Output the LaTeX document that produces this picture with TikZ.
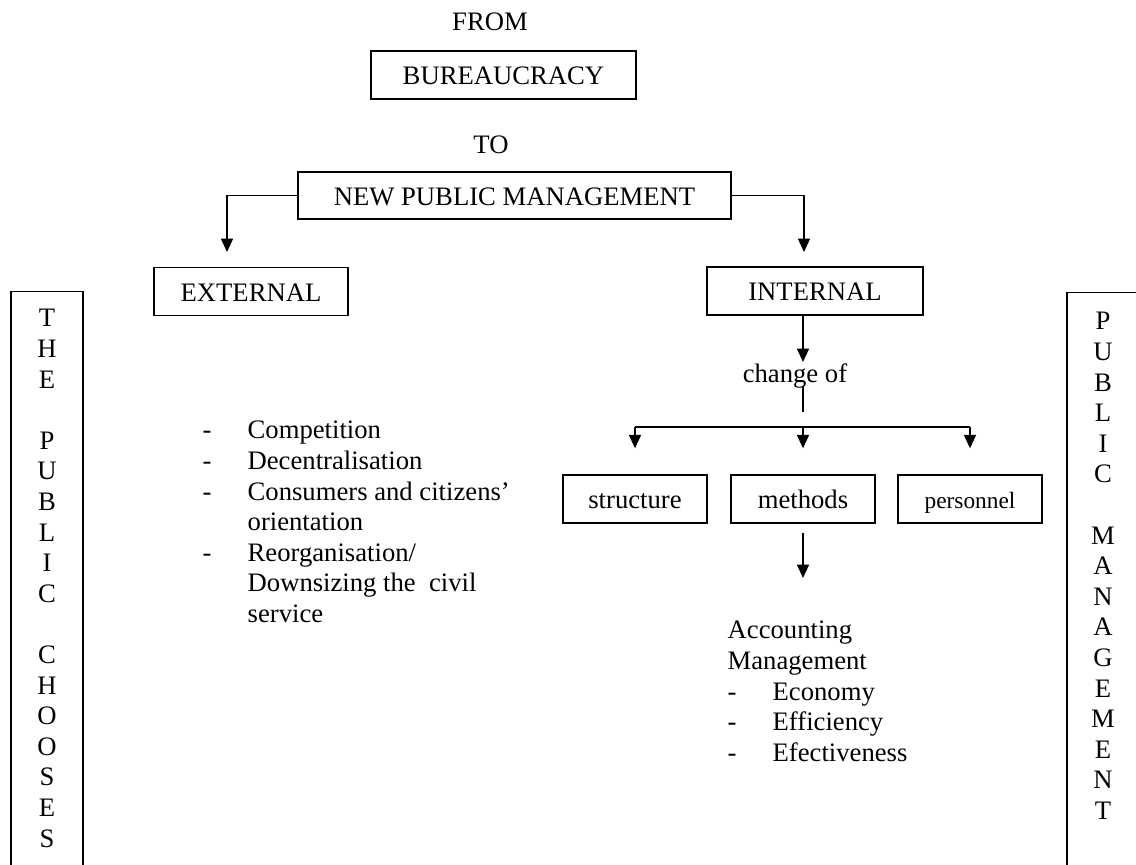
\documentclass[tikz,border=0pt]{standalone}
\usepackage{fontspec}
\setmainfont{Liberation Serif}
\setsansfont{Liberation Serif}
\usetikzlibrary{arrows.meta}

\begin{document}
\begin{tikzpicture}[x=0.45pt, y=-0.45pt, line width=0.6pt,
        font=\rmfamily\fontsize{12}{13.77}\selectfont,
        every node/.style={inner sep=0pt},
        box/.style={draw, minimum height=21.6pt, text height=10pt, text depth=1.2pt},
        sidebox/.style={draw, anchor=north, minimum height=280pt},
        arr/.style={-{Triangle[width=5.4pt, length=6pt]}}]
        \useasboundingbox (0,0) rectangle (1136,865);
        \clip (0,0) rectangle (1136,865);

        % top of the chart
        \node[anchor=base] (from) at (490,31) {FROM};
        \node[box, minimum width=119.25pt] (bur) at (503.5,75) {BUREAUCRACY};
        \node[anchor=base] (to) at (491,154) {TO};
        \node[box, minimum width=194.85pt, minimum height=21.15pt] (npm) at (514.5,195.5) {NEW PUBLIC MANAGEMENT};

        \node[box, minimum width=87.3pt] (ext) at (251,291.5) {EXTERNAL};
        \node[box, minimum width=97.2pt] (int) at (815,291) {INTERNAL};

        \coordinate (extin) at (227,252);
        \coordinate (intin) at (804,252);
        \draw[arr] (npm.west) -| (extin);
        \draw[arr] (npm.east) -| (intin);

        % internal side
        \coordinate (chgin) at (803,362);
        \node[anchor=base] (chg) at (795,383) {change of};
        \coordinate (chgtop) at (803,387);
        \coordinate (chgbot) at (803,412);
        \draw[arr] (int.south -| chgin) -- (chgin);
        \draw (chgtop) -- (chgbot);

        \coordinate (bl) at (635,427);
        \coordinate (bm) at (803,427);
        \coordinate (br) at (970,427);

        \node[box, minimum width=64.8pt] (str) at (635,499) {structure};
        \node[box, minimum width=64.8pt] (met) at (803,499) {methods};
        \node[box, minimum width=64.8pt, font=\rmfamily\fontsize{10.5}{12}\selectfont] (per) at (970,499) {personnel};

        \draw (bl) -- (br);
        \draw[arr, shorten >=11.7pt] (bl) -- (str.north);
        \draw[arr, shorten >=11.7pt] (bm) -- (met.north);
        \draw[arr, shorten >=11.7pt] (br) -- (per.north);

        \coordinate (accin) at (803,578);
        \draw[arr, shorten <=4pt] (met.south) -- (accin);

        \node[anchor=base west] (acc) at (727,639) {\begin{tabular}[t]{@{}p{20.25pt}@{}l@{}}
                \multicolumn{2}{@{}l@{}}{Accounting}\\
                \multicolumn{2}{@{}l@{}}{Management}\\
                - & Economy\\
                - & Efficiency\\
                - & Efectiveness
            \end{tabular}};

        % external side
        \node[anchor=base west] (extlist) at (202,439) {\begin{tabular}[t]{@{}p{20.25pt}@{}l@{}}
                - & Competition\\
                - & Decentralisation\\
                - & Consumers and citizens’\\
                  & orientation\\
                - & Reorganisation/\\
                  & Downsizing the\ \ civil\\
                  & service
            \end{tabular}};

        % side columns
        \node[sidebox, minimum width=32.4pt] (pcbox) at (47,291) {};
        \node[anchor=base] (pcword) at (47,327) {\begin{tabular}[t]{@{}c@{}}
                T\\ H\\ E\\ \\ P\\ U\\ B\\ L\\ I\\ C\\ \\ C\\ H\\ O\\ O\\ S\\ E\\ S
            \end{tabular}};

        \node[sidebox, minimum width=59.85pt] (pmbox) at (1133.5,292) {};
        \node[anchor=base] (pmword) at (1103,330) {\begin{tabular}[t]{@{}c@{}}
                P\\ U\\ B\\ L\\ I\\ C\\ \\ M\\ A\\ N\\ A\\ G\\ E\\ M\\ E\\ N\\ T
            \end{tabular}};
    \end{tikzpicture}
\end{document}
